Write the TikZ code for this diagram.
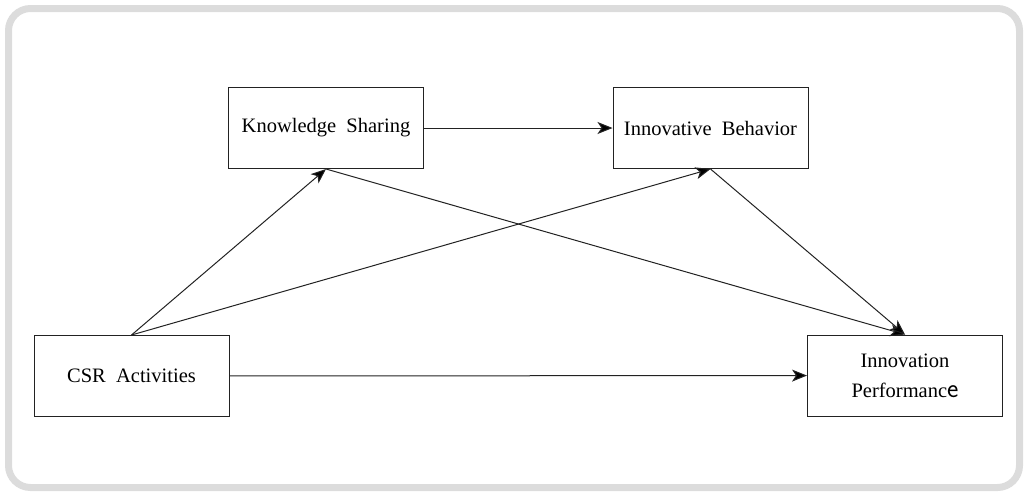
\documentclass[tikz,border=0pt]{standalone}
\usepackage{fontspec}
\setmainfont{Liberation Serif}
\usetikzlibrary{arrows.meta}
\definecolor{framegray}{HTML}{DCDCDC}
\definecolor{linegray}{HTML}{222222}
\tikzset{
  box/.style={draw=linegray, line width=1pt, minimum width=195pt, minimum height=81pt,
    inner sep=0pt, align=center, font=\fontsize{20.5}{30}\selectfont},
  conn/.style={draw=linegray, line width=1pt, -{Stealth[length=15pt,width=12pt,inset=4pt,fill=black]}}
}
\begin{document}
\begin{tikzpicture}[x=1pt,y=-1pt]
\useasboundingbox (0,0) rectangle (1028,496);
\draw[framegray, line width=7pt, rounded corners=22pt] (8.5,8.5) rectangle (1019.5,487.5);
\node[box] (ks) at (326,128) {Knowledge\ \ Sharing};
\node[box] (ib) at (710.5,128) {Innovative\ \ Behavior};
\node[box] (csr) at (131.5,376) {CSR\ \ Activities};
\node[box] (ip) at (905,375.5) {Innovation\\Performanc{\fontsize{27}{30}\selectfont\sffamily e}};
\draw[conn] (ks) -- (ib);
\draw[conn] (csr.north) -- (ks.south);
\draw[conn] (csr.north) -- (ib.south);
\draw[conn] (ks.south) -- (ip.north);
\draw[conn] (ib.south) -- (ip.north);
\draw[conn] (csr) -- (ip);
\end{tikzpicture}
\end{document}
